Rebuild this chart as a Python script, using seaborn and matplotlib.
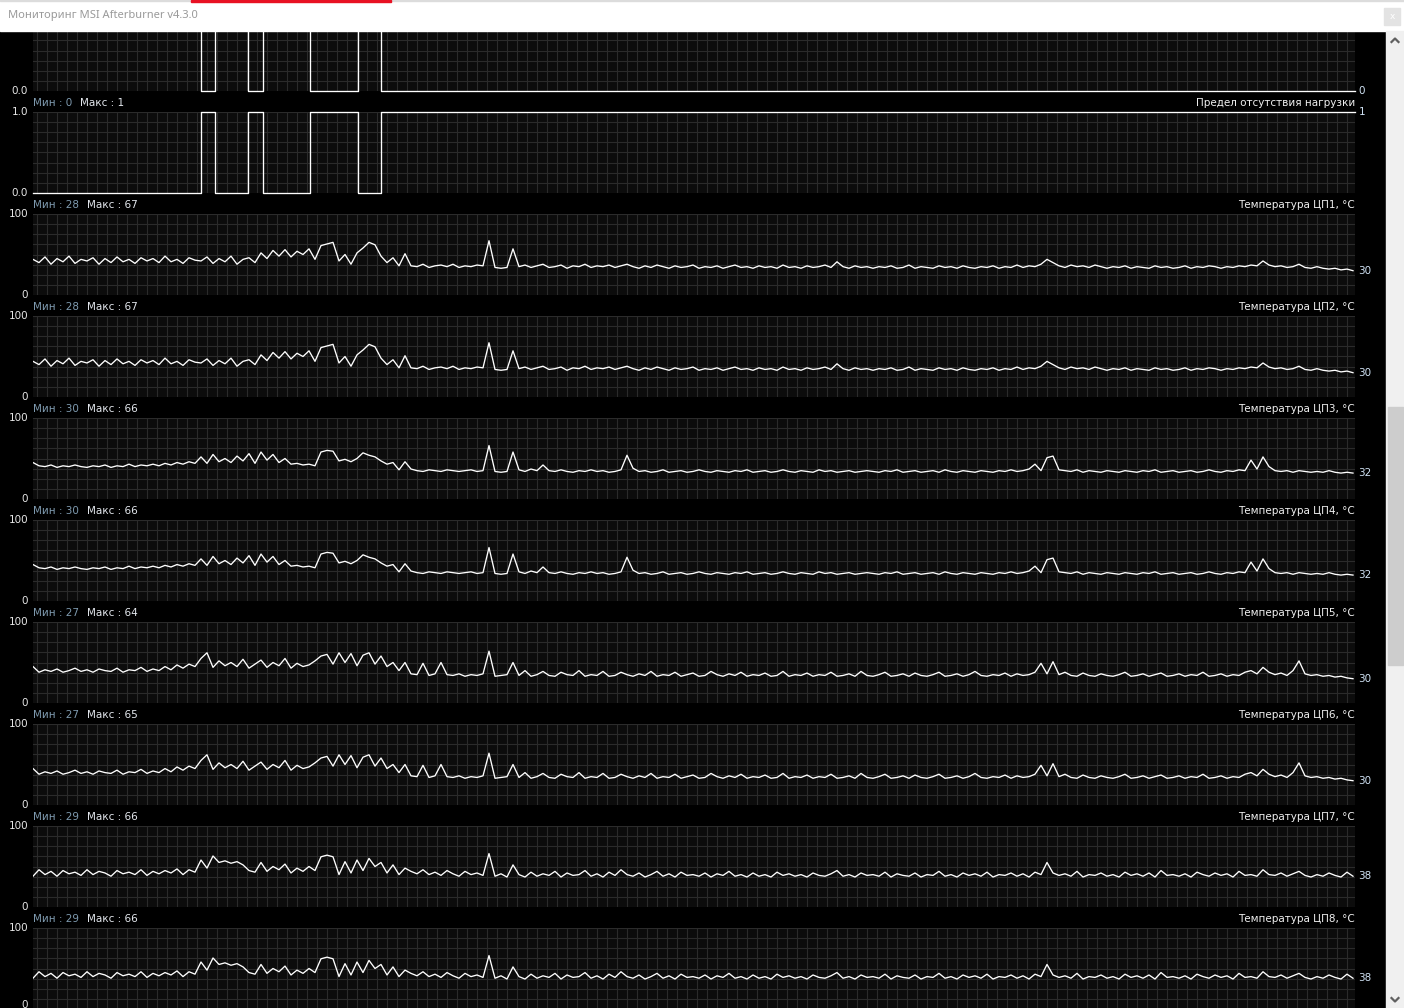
import numpy as np
import matplotlib
matplotlib.use("Agg")
import matplotlib.pyplot as plt
import seaborn as sns
from matplotlib.patches import Rectangle

W, H = 1404, 1008

# one sample every 6 time units, graph spans 1322 units
step = 6

# CPU temperature logs, degC (cores come in near identical pairs)
cpu1 = [44, 40, 47, 38, 45, 41, 48, 39, 44, 42, 46, 38, 45, 40, 47, 41, 44, 39, 46, 42,
        45, 40, 48, 41, 44, 39, 46, 43,
        42, 47, 39, 45, 41, 48, 38, 44, 46, 40,
        52, 45, 55, 48, 56, 47, 54, 50, 57, 44,
        61, 63, 65, 42, 50, 38, 52, 58, 65, 62, 48, 40, 46, 36, 51,
        36, 35, 38, 34, 36, 37, 35, 38, 34, 36, 35, 37, 36,
        67, 34, 33, 34, 57,
        35, 37, 34, 36, 38, 34, 35, 37, 33, 36, 35, 38, 34, 36, 35, 37, 34, 36, 38,
        35, 33, 36, 34, 37, 35, 33, 36, 34, 35, 37, 33, 35, 34, 36, 33, 35, 37, 34, 35,
        33, 36, 34, 35, 33, 37, 34, 35, 33, 36, 34, 35, 37, 34, 41, 35, 33, 36, 34, 35,
        33, 35, 34, 36, 33, 34, 37, 33, 35, 34, 33, 36, 34, 35, 33, 36, 34, 33, 35, 34,
        36, 33, 35, 34, 37, 34, 36, 35, 38, 44, 40, 36, 34, 37, 35, 36, 34, 37, 35, 33,
        35, 34, 36, 33, 35, 34, 33, 36, 34, 35, 33, 34, 36, 33, 35, 34, 36, 35, 33, 35,
        34, 36, 35, 37, 36, 42, 37, 35, 36, 34, 35, 38, 34, 33, 35, 33, 32, 33, 31, 32, 30]

cpu3 = [45, 41, 40, 42, 39, 41, 40, 42, 40, 39, 41, 40, 42, 39, 41, 40, 43, 40, 42, 41,
        43, 41, 44, 42, 45, 43, 46, 44,
        52, 44, 55, 46, 50, 45, 53, 47, 56, 44,
        58, 48, 55, 45, 50, 43, 44, 42, 43, 41,
        58, 60, 59, 47, 49, 46, 50, 57, 54, 52, 47, 43, 45, 36, 46,
        37, 35, 34, 36, 35, 34, 36, 35, 34, 35, 36, 34, 35,
        66, 34, 33, 34, 58,
        36, 34, 37, 35, 42, 35, 34, 36, 34, 33, 35, 34, 36, 34, 35, 33, 34, 36, 54,
        38, 34, 35, 33, 34, 36, 33, 34, 35, 33, 34, 36, 34, 33, 35, 34, 33, 35, 34, 36,
        33, 34, 35, 33, 34, 36, 34, 33, 35, 34, 33, 36, 34, 35, 33, 34, 35, 33, 34, 35,
        34, 33, 35, 34, 36, 33, 34, 35, 33, 34, 35, 33, 36, 34, 33, 35, 34, 33, 35, 34,
        33, 35, 34, 36, 34, 35, 37, 43, 35, 51, 53, 36, 35, 34, 36, 33, 35, 34, 33, 35,
        34, 33, 35, 34, 33, 35, 34, 36, 33, 34, 35, 33, 34, 35, 33, 34, 36, 34, 33, 35,
        34, 36, 35, 48, 37, 52, 40, 35, 34, 35, 33, 35, 34, 33, 34, 33, 35, 33, 32, 33, 32]

cpu5 = [45, 38, 41, 39, 42, 38, 40, 43, 39, 41, 38, 42, 40, 39, 43, 38, 41, 40, 44, 39,
        42, 40, 45, 41, 47, 43, 48, 45,
        55, 62, 44, 52, 46, 50, 45, 54, 43, 48,
        53, 44, 50, 46, 55, 43, 49, 45, 47, 52,
        58, 60, 48, 62, 50, 61, 46, 59, 62, 48, 58, 45, 50, 40,
        50, 36, 35, 49, 34, 36, 50, 35, 34, 36, 33, 35, 34, 36,
        64, 33, 34, 35, 50,
        34, 40, 33, 35, 39, 34, 33, 38, 35, 34, 40, 33, 35, 34, 39, 33, 34, 38, 35,
        33, 36, 34, 39, 33, 35, 34, 38, 33, 35, 37, 33, 34, 39, 35, 33, 36, 34, 38, 33,
        35, 34, 37, 33, 34, 39, 33, 35, 34, 37, 33, 35, 34, 38, 33, 34, 36, 33, 39, 34,
        33, 35, 38, 33, 34, 36, 33, 37, 34, 33, 35, 38, 33, 34, 36, 33, 35, 39, 34, 33,
        35, 34, 37, 33, 36, 34, 35, 38, 49, 36, 51, 35, 38, 34, 33, 37, 34, 33, 36, 34,
        33, 35, 38, 33, 34, 36, 33, 35, 37, 33, 34, 36, 33, 35, 34, 38, 33, 34, 36, 33,
        35, 34, 38, 40, 36, 44, 38, 35, 37, 34, 40, 52, 36, 34, 35, 33, 34, 32, 33, 31, 30]

cpu7 = [38, 46, 40, 44, 38, 45, 41, 43, 39, 46, 40, 44, 42, 38, 45, 41, 43, 40, 46, 39,
        44, 41, 45, 42, 47, 40, 46, 43,
        58, 48, 63, 55, 57, 54, 56, 52, 45, 43,
        55, 44, 50, 46, 53, 42, 48, 44, 50, 45,
        62, 64, 62, 40, 56, 42, 58, 45, 60, 50, 55, 42, 52, 40,
        48, 44, 41, 46, 40, 43, 39, 45, 41, 38, 44, 40, 42, 39,
        66, 38, 41, 37, 52,
        40, 37, 43, 38, 41, 39, 44, 37, 42, 39, 40, 45, 38, 41, 37, 43, 39, 46, 40,
        38, 42, 37, 40, 44, 38, 41, 37, 43, 39, 40, 38, 42, 37, 41, 39, 44, 38, 40, 37,
        42, 38, 40, 37, 43, 39, 41, 38, 40, 37, 42, 39, 38, 41, 45, 38, 40, 37, 42, 39,
        40, 38, 43, 37, 41, 39, 38, 42, 37, 40, 39, 44, 38, 40, 37, 42, 39, 41, 38, 43,
        37, 40, 39, 42, 38, 41, 37, 43, 40, 55, 42, 39, 41, 38, 44, 37, 40, 39, 42, 38,
        40, 37, 43, 39, 41, 38, 42, 37, 45, 39, 40, 38, 41, 37, 43, 40, 38, 42, 39, 41,
        37, 44, 39, 40, 38, 46, 40, 39, 42, 38, 41, 44, 39, 37, 40, 38, 42, 39, 37, 43, 38]

# "no load limit" flag: switch times and state after each switch
load_t = [0, 168, 182, 215, 230, 277, 325, 348, 1322]
load_v = [0, 1, 0, 1, 0, 1, 0, 1, 1]

cpu_names = ["Температура ЦП1, °C", "Температура ЦП2, °C", "Температура ЦП3, °C",
             "Температура ЦП4, °C", "Температура ЦП5, °C", "Температура ЦП6, °C",
             "Температура ЦП7, °C", "Температура ЦП8, °C"]
cpu_min = [28, 28, 30, 30, 27, 27, 29, 29]
cpu_max = [67, 67, 66, 66, 64, 65, 66, 66]
cpu_now = ["30", "30", "32", "32", "30", "30", "38", "38"]
cpu_series = [cpu1, cpu1, cpu3, cpu3, cpu5, cpu5, cpu7, cpu7]

# layout in pixels
X0, X1, PH = 33, 1355, 81
SPAN = X1 - X0
PANEL_BG = "#0c0c0c"
GRID = "#2b2b2b"
FS = 7.5
MIN_C = "#7f9bb0"
MAX_C = "#e4e8ee"
VAL_C = "#cfe1f3"

fig = plt.figure(figsize=(W / 100, H / 100), dpi=100, facecolor="black")


def panel(top, ymax):
    ax = fig.add_axes([X0 / W, 1 - (top + PH) / H, SPAN / W, PH / H])
    ax.set_facecolor(PANEL_BG)
    ax.set_xlim(0, SPAN)
    ax.set_ylim(0, ymax)
    ax.set_xticks(np.arange(4, SPAN, 10))
    ax.set_yticks(np.linspace(0, ymax, 9))
    ax.grid(True, color=GRID, lw=0.8)
    ax.tick_params(length=0, labelbottom=False, labelleft=False)
    for s in ax.spines.values():
        s.set_visible(False)
    return ax


def left_label(ax, txt, yfrac, dy=0):
    ax.annotate(txt, xy=(0, yfrac), xycoords="axes fraction", xytext=(-3.5, dy),
                textcoords="offset points", ha="right", va="center",
                color="#e6e6e6", fontsize=FS)


def header(ax, lo, hi, name):
    t1 = ax.annotate(f"Мин : {lo}", xy=(0, 1), xycoords="axes fraction",
                     xytext=(0, 6.6), textcoords="offset points", ha="left",
                     va="center", color=MIN_C, fontsize=FS)
    ax.annotate(f"Макс : {hi}", xy=(1, 0.5), xycoords=t1, xytext=(5.5, 0),
                textcoords="offset points", ha="left", va="center",
                color=MAX_C, fontsize=FS)
    ax.annotate(name, xy=(1, 1), xycoords="axes fraction", xytext=(0, 6.6),
                textcoords="offset points", ha="right", va="center",
                color="#f0f0f0", fontsize=FS)


def now_label(ax, txt, y):
    ax.annotate(txt, xy=(1, y), xycoords=("axes fraction", "data"), xytext=(2.5, 0),
                textcoords="offset points", ha="left", va="center",
                color=VAL_C, fontsize=FS)


# top flag panel (inverse state, partly hidden under the title bar)
ax0 = panel(10, 1.0)
sns.lineplot(x=load_t, y=[1 - v for v in load_v], ax=ax0, color="white", lw=0.95,
             drawstyle="steps-post", clip_on=False)
left_label(ax0, "0.0", 0)
now_label(ax0, "0", 1 - load_v[-1])

# no load limit panel
ax1 = panel(112, 1.0)
sns.lineplot(x=load_t, y=load_v, ax=ax1, color="white", lw=0.95,
             drawstyle="steps-post", clip_on=False)
left_label(ax1, "1.0", 1)
left_label(ax1, "0.0", 0)
header(ax1, 0, 1, "Предел отсутствия нагрузки")
now_label(ax1, "1", load_v[-1])

# CPU temperature panels
for k, vals in enumerate(cpu_series):
    ax = panel(214 + 102 * k, 100)
    t = np.arange(len(vals)) * step
    sns.lineplot(x=t, y=vals, ax=ax, color="white", lw=0.95)
    left_label(ax, "100", 1)
    # bottom label of the last panel sits on the window edge
    left_label(ax, "0", 0, dy=3 if k == len(cpu_series) - 1 else 0)
    header(ax, cpu_min[k], cpu_max[k], cpu_names[k])
    now_label(ax, cpu_now[k], vals[-1])

for ax in fig.axes:
    ax.set_xlabel("")
    ax.set_ylabel("")

# window chrome: title bar and scroll bar
ch = fig.add_axes([0, 0, 1, 1], zorder=10)
ch.set_xlim(0, W)
ch.set_ylim(H, 0)
ch.axis("off")
ch.patch.set_alpha(0)
ch.add_patch(Rectangle((0, 0), W, 31, color="white"))
ch.add_patch(Rectangle((0, 0), W, 1, color="#dcdcdc"))
ch.add_patch(Rectangle((191, 0), 200, 2, color="#e81123"))
ch.text(8, 15.5, "Мониторинг MSI Afterburner v4.3.0", color="#9a9a9a",
        fontsize=8.0, family="Noto Sans", ha="left", va="center")
ch.add_patch(Rectangle((1384, 8), 16, 17, color="#e3e3e3"))
ch.text(1392, 16.5, "x", color="white", fontsize=6.5, ha="center", va="center")
ch.add_patch(Rectangle((1386, 31), 18, H - 31, color="#f0f0f0"))
ch.add_patch(Rectangle((1388, 407), 15, 258, color="#cdcdcd"))
ch.plot([1391.5, 1395, 1398.5], [42, 38.5, 42], color="#606060", lw=1.6)
ch.plot([1391.5, 1395, 1398.5], [998, 1001.5, 998], color="#606060", lw=1.6)

fig.savefig("out.png", dpi=100, facecolor="black")
